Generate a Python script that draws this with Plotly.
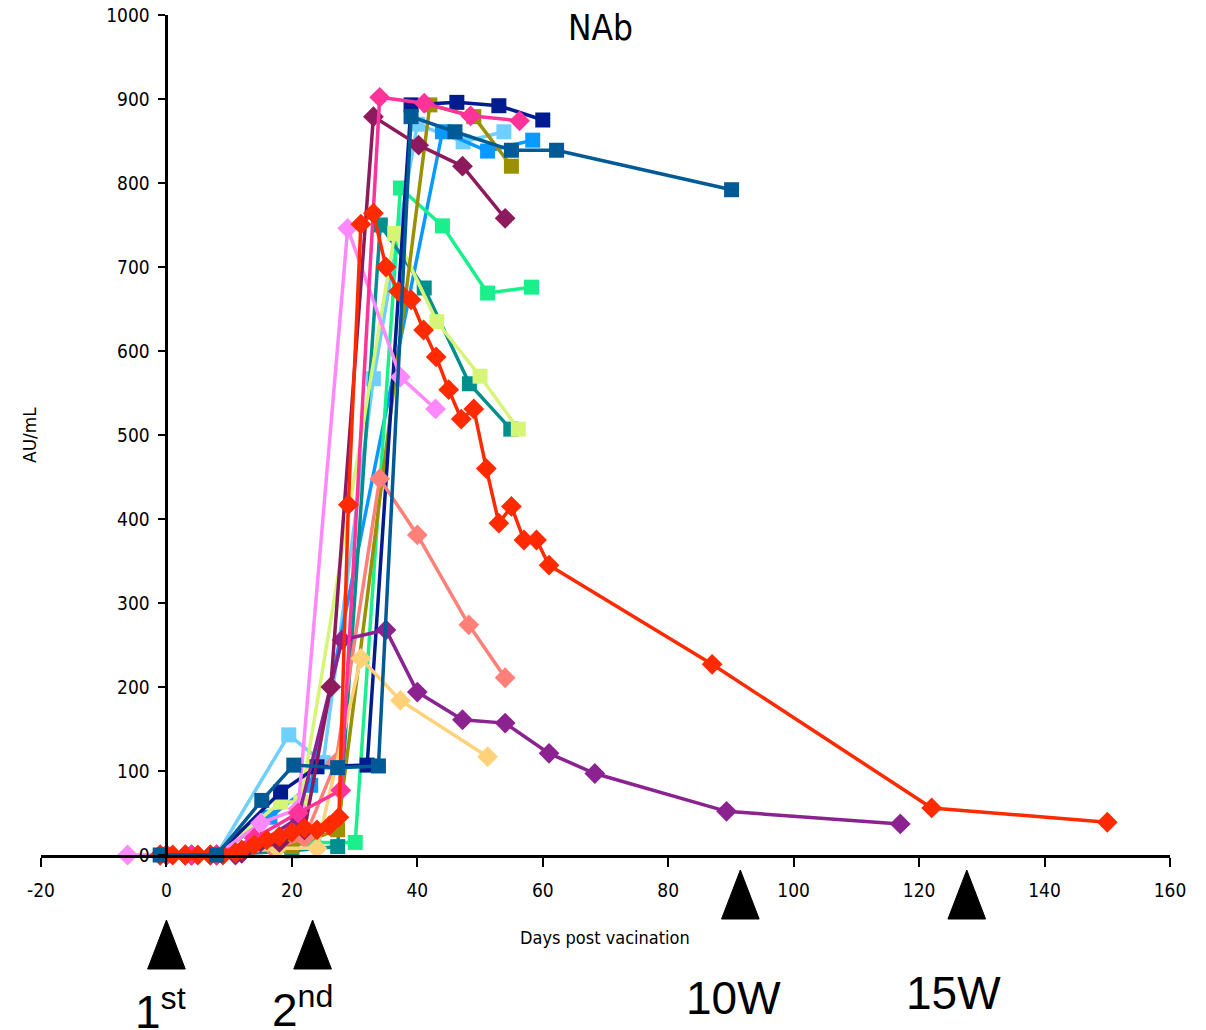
import plotly.graph_objects as go

# ---------------- data ----------------
red_days = [-1, 1, 3, 5, 7, 9, 11, 12, 14, 16, 18, 20, 22, 24, 26, 27.5, 29, 31, 33, 35, 37, 39, 41, 43, 45, 47, 49, 51, 53, 55, 57, 59, 61, 87, 122, 150]
red_vals = [0, 0, 0, 0, 0, 0, 3, 6, 12, 18, 22, 27, 32, 30, 35, 45, 417, 751, 764, 700, 671, 661, 625, 593, 554, 519, 531, 460, 395, 415, 375, 375, 345, 227, 56, 39]

purple_days = [-1, 3, 7, 11, 15, 21, 28, 35, 40, 47.2, 54, 61, 68.3, 89.3, 117]
purple_vals = [0, 0, 0, 0, 15, 44, 256, 268, 194, 161, 157, 121, 97, 52, 37]

maroon_days = [0, 4, 8, 12, 18, 22, 26.2, 33, 40.2, 47.2, 54]
maroon_vals = [0, 0, 0, 2, 15, 30, 200, 879, 845, 820, 758]

hotpink_days = [0, 4, 8, 14, 21, 27.8, 34, 41.1, 48.5, 56.3]
hotpink_vals = [0, 0, 0, 20, 50, 77, 902, 895, 880, 874]

violet_days = [-6.2, -1, 3, 8, 15, 21, 28.9, 37.3, 42.9]
violet_vals = [0, 0, 0, 0, 38, 55, 746, 569, 531]

salmon_days = [0, 4, 8, 17, 22, 27, 34, 40, 48.2, 54]
salmon_vals = [0, 0, 0, 8, 20, 110, 448, 381, 274, 211]

orange_days = [-1, 3, 8, 17.7, 24, 31, 37.3, 51.2]
orange_vals = [0, 0, 0, 8, 8, 234, 184, 117]

navy_days = [0, 8, 18.2, 24, 32, 39, 46.3, 53, 60]
navy_vals = [0, 0, 75, 105, 107, 893, 896, 892, 875]

steel_days = [-1, 8, 15.2, 20.3, 27.3, 33.8, 39, 46, 55, 62.2, 90.1]
steel_vals = [0, 0, 65, 107, 104, 106, 879, 861, 839, 839, 792]

olive_days = [0, 8, 20, 27.3, 42, 49, 55]
olive_vals = [0, 0, 10, 30, 893, 879, 820]

sky_days = [0, 8, 19.5, 25, 33, 40, 47.3, 53.8]
sky_vals = [0, 0, 143, 110, 567, 870, 849, 861]

dodger_days = [0, 8, 16.5, 23, 44, 51.2, 58.4]
dodger_vals = [0, 0, 45, 83, 861, 838, 851]

green_days = [0, 8, 23.5, 30.1, 37.3, 44, 51.2, 58.2]
green_vals = [0, 0, 15, 15, 794, 749, 669, 676]

teal_days = [0, 8, 20, 27.3, 34.1, 41.1, 48.3, 54.9]
teal_vals = [0, 0, 5, 10, 750, 675, 561, 507]

ygreen_days = [0, 8, 18.2, 21.4, 36.4, 43.1, 50, 56.1]
ygreen_vals = [0, 0, 63, 63, 740, 635, 570, 507]

x_ticks = [-20, 0, 20, 40, 60, 80, 100, 120, 140, 160]
x_tick_labels = ["-20", "0", "20", "40", "60", "80", "100", "120", "140", "160"]
y_ticks = [0, 100, 200, 300, 400, 500, 600, 700, 800, 900, 1000]

arrow_days = [0, 23.3, 91.5, 127.6]
arrow_labels = ["1<sup>st</sup>", "2<sup>nd</sup>", "10W", "15W"]

# ---------------- figure ----------------
series = [
    (sky_days, sky_vals, "#6FCFFF", "square"),
    (dodger_days, dodger_vals, "#0A99FF", "square"),
    (green_days, green_vals, "#19F08C", "square"),
    (teal_days, teal_vals, "#008F8F", "square"),
    (ygreen_days, ygreen_vals, "#D6F577", "square"),
    (olive_days, olive_vals, "#9A9000", "square"),
    (navy_days, navy_vals, "#001C8E", "square"),
    (violet_days, violet_vals, "#FF88FF", "diamond"),
    (salmon_days, salmon_vals, "#FF8078", "diamond"),
    (orange_days, orange_vals, "#FFD27A", "diamond"),
    (purple_days, purple_vals, "#8C2290", "diamond"),
    (maroon_days, maroon_vals, "#8E1A5E", "diamond"),
    (hotpink_days, hotpink_vals, "#FF3399", "diamond"),
    (red_days, red_vals, "#FF2A00", "diamond"),
    (steel_days, steel_vals, "#005A96", "square"),
]

fig = go.Figure()
for xs, ys, col, sym in series:
    fig.add_trace(go.Scatter(
        x=xs, y=ys, mode="lines+markers",
        line=dict(color=col, width=3.5),
        marker=dict(symbol=sym, color=col, size=16 if sym == "diamond" else 15),
        cliponaxis=False, showlegend=False,
    ))

narrow = "DejaVu Sans Condensed, Liberation Sans Narrow, Arial Narrow, sans-serif"
tick_font = dict(family=narrow, size=19, color="black")

# page has an 8px body margin, so the figure is 8px smaller and margins are shifted
fig.update_layout(
    width=1198, height=1022,
    margin=dict(l=33, r=36, t=7, b=175),
    paper_bgcolor="white", plot_bgcolor="white",
    showlegend=False,
    xaxis=dict(range=[-20, 160], tickvals=x_ticks, ticktext=x_tick_labels,
               showgrid=False, zeroline=False, automargin=False,
               showline=True, linecolor="black", linewidth=3,
               ticks="outside", ticklen=9, tickwidth=2, tickcolor="black",
               tickfont=tick_font, ticklabelstandoff=7, ticklabeloverflow="allow"),
    yaxis=dict(range=[0, 1000], tickvals=y_ticks, showgrid=False, zeroline=False,
               automargin=False, anchor="free", position=20 / 180,
               showline=True, linecolor="black", linewidth=3,
               ticks="outside", ticklen=7, tickwidth=2, tickcolor="black",
               tickfont=tick_font, ticklabelstandoff=5, ticklabeloverflow="allow"),
)

# chart title and axis titles
fig.add_annotation(text="NAb", x=(600 - 41) / 1129, xref="paper", y=(855 - 28) / 840, yref="paper",
                   xanchor="center", yanchor="middle", showarrow=False,
                   font=dict(family=narrow, size=35, color="black"))
fig.add_annotation(text="Days post vacination", x=(605 - 41) / 1129, xref="paper", y=(855 - 937) / 840, yref="paper",
                   xanchor="center", yanchor="middle", showarrow=False,
                   font=dict(family=narrow, size=18, color="black"))
fig.add_annotation(text="AU/mL", x=(30 - 41) / 1129, xref="paper", y=(855 - 435) / 840, yref="paper",
                   xanchor="center", yanchor="middle", textangle=-90, showarrow=False,
                   font=dict(family="DejaVu Sans, Verdana, sans-serif", size=17, color="black"))

# vaccination / time-point arrowheads with labels
arrow_tops = [920, 920, 870, 870]
label_mid = [1009, 1007, 998, 993]
label_left = [133, 270, 684, 904]
for d, lab, top, lm, lx in zip(arrow_days, arrow_labels, arrow_tops, label_mid, label_left):
    ytop = (855 - top) / 840
    ybot = (855 - (top + 49)) / 840
    hw = 3.0
    fig.add_shape(type="path", xref="x", yref="paper",
                  path=f"M {d - hw},{ybot} L {d},{ytop} L {d + hw},{ybot} Z",
                  fillcolor="black", line=dict(color="black", width=1))
    fig.add_annotation(text=lab, x=(lx - 41) / 1129, xref="paper", y=(855 - lm) / 840, yref="paper",
                       xanchor="left", yanchor="middle", showarrow=False,
                       font=dict(family="Liberation Sans, Arial, sans-serif", size=46, color="black"))

fig.write_html("out.html")
